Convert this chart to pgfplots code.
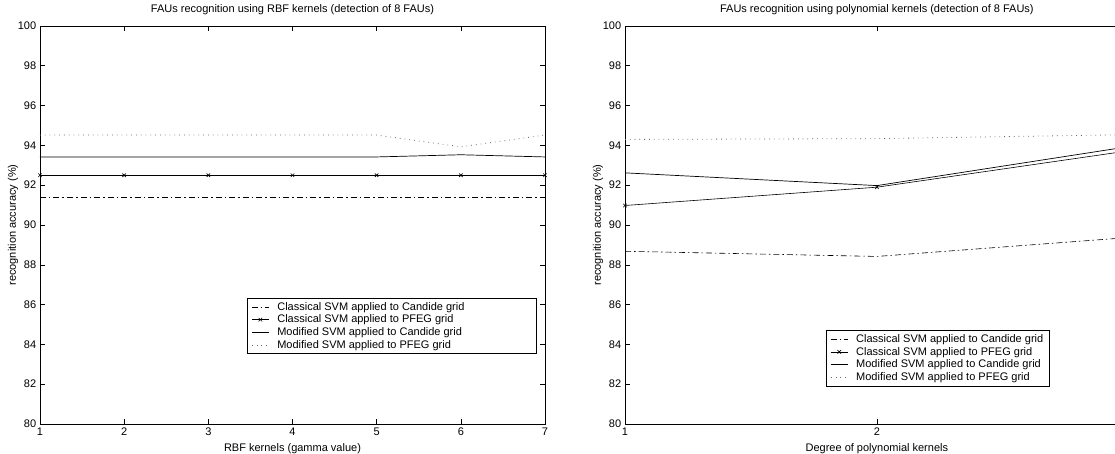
\documentclass[border=0pt]{standalone}
\usepackage{pgfplots}
\pgfplotsset{compat=1.18}
\usepackage{fontspec}
\setmainfont{Liberation Sans}

\pgfplotstableread{
x candide pfeg modcand modpfeg
1 91.4 92.5 93.42 94.52
2 91.4 92.5 93.42 94.52
3 91.4 92.5 93.42 94.52
4 91.4 92.5 93.42 94.52
5 91.4 92.5 93.42 94.52
6 91.4 92.5 93.53 93.93
7 91.4 92.5 93.42 94.52
}\rbfdata

\pgfplotstableread{
x candide pfeg modcand modpfeg
1 88.68 90.98 92.62 94.30
2 88.42 91.90 91.98 94.34
3 89.37 93.73 93.94 94.54
}\polydata

\begin{document}
\fontsize{11}{13}\selectfont
\begin{tikzpicture}
\useasboundingbox (0pt,0pt) rectangle (1115pt,453pt);
\pgfplotsset{
  myaxis/.style={
    scale only axis,
    font=\fontsize{11}{13}\selectfont,
    /pgf/number format/assume math mode=true,
    ymin=80, ymax=100, ytick={80,82,...,100},
    tick align=inside, major tick length=5pt,
    axis line style={line width=0.9pt},
    every tick/.style={line width=0.6pt, black},
    ylabel={recognition accuracy (\%)},
    ylabel shift=-8pt,
    title style={yshift=1pt},
    legend cell align=left,
    legend style={draw=black, line width=0.8pt, font=\fontsize{11}{13}\selectfont,
      row sep=-1pt, inner xsep=4pt, inner ysep=2pt,
      /tikz/every odd column/.append style={column sep=6pt}},
  },
  candstyle/.style={black, line width=0.6pt, dash pattern=on 6pt off 3pt on 1.5pt off 3pt},
  pfegstyle/.style={black, line width=0.6pt, mark=x, mark size=2.5pt, mark options={solid}},
  modcstyle/.style={black, line width=0.7pt},
  modpstyle/.style={black!60, line width=0.8pt, dash pattern=on 0.8pt off 4pt},
}

\begin{axis}[myaxis, at={(40pt,29pt)}, anchor=south west, width=505pt, height=398pt,
  xmin=1, xmax=7, xtick={1,2,...,7},
  title={FAUs recognition using RBF kernels (detection of 8 FAUs)},
  xlabel={RBF kernels (gamma value)},
  legend style={at={(0.41,0.317)}, anchor=north west},
]
\addplot[candstyle] table[x=x, y=candide] {\rbfdata};
\addlegendentry{Classical SVM applied to Candide grid\hspace*{66pt}}
\addplot[pfegstyle] table[x=x, y=pfeg] {\rbfdata};
\addlegendentry{Classical SVM applied to PFEG grid}
\addplot[modcstyle] table[x=x, y=modcand] {\rbfdata};
\addlegendentry{Modified SVM applied to Candide grid}
\addplot[modpstyle] table[x=x, y=modpfeg] {\rbfdata};
\addlegendentry{Modified SVM applied to PFEG grid}
\end{axis}

\begin{axis}[myaxis, at={(625pt,29pt)}, anchor=south west, width=490pt, height=398pt,
  xmin=1, xmax=2.945, xtick={1,2},
  axis x line*=box, axis y line*=left,
  title={FAUs recognition using polynomial kernels (detection of 8 FAUs)},
  title style={at={(0.514,1)}},
  xlabel={Degree of polynomial kernels},
  xlabel style={at={(ticklabel cs:0.514)}},
  legend style={at={(0.41,0.236)}, anchor=north west},
]
\addplot[candstyle] table[x=x, y=candide] {\polydata};
\addlegendentry{Classical SVM applied to Candide grid}
\addplot[pfegstyle] table[x=x, y=pfeg] {\polydata};
\addlegendentry{Classical SVM applied to PFEG grid}
\addplot[modcstyle] table[x=x, y=modcand] {\polydata};
\addlegendentry{Modified SVM applied to Candide grid}
\addplot[modpstyle] table[x=x, y=modpfeg] {\polydata};
\addlegendentry{Modified SVM applied to PFEG grid}
\end{axis}
\end{tikzpicture}
\end{document}
